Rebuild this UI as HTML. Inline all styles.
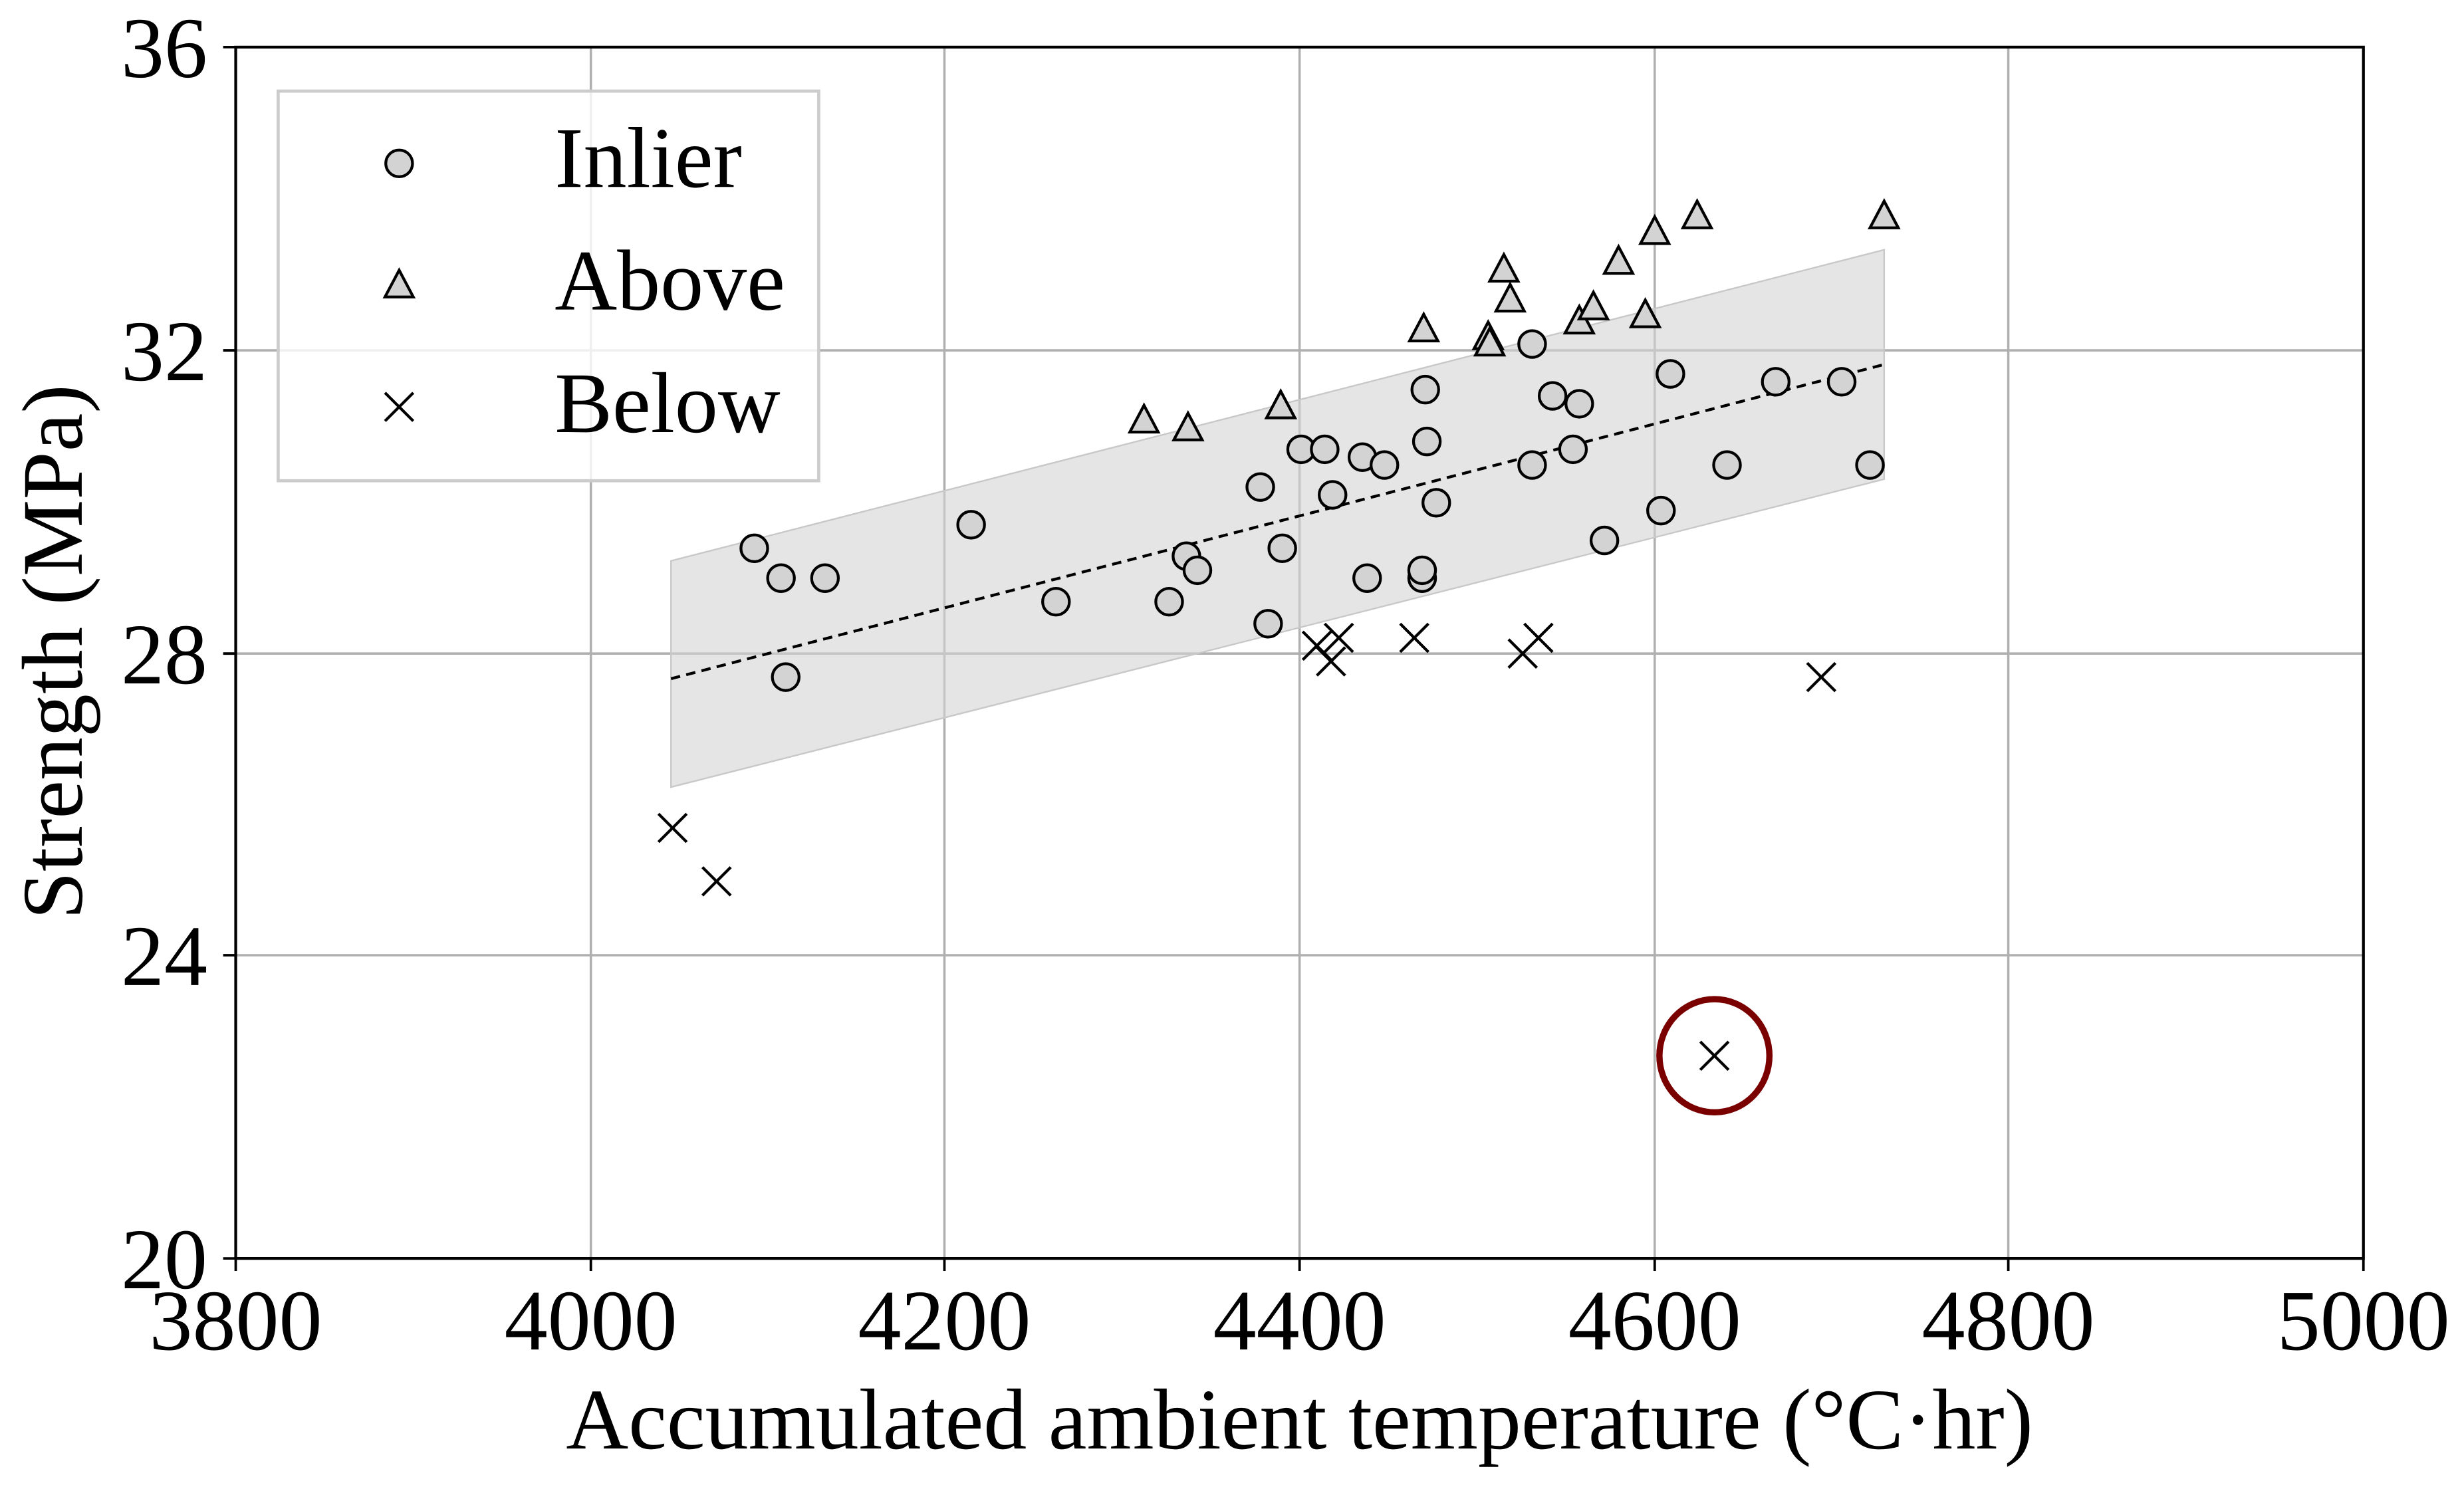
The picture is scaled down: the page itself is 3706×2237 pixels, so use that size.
<!DOCTYPE html>
<html><head><meta charset="utf-8"><style>html,body{margin:0;padding:0;background:#fff}svg{display:block}</style></head>
<body>
<svg width="3706" height="2237" viewBox="0 0 1568 946.5" preserveAspectRatio="none" xmlns="http://www.w3.org/2000/svg" font-family="'Liberation Serif', serif">
<rect width="1568" height="946.5" fill="#fff"/>
<g stroke="#b0b0b0" stroke-width="1.5">
<line x1="376" y1="30" x2="376" y2="801"/><line x1="601" y1="30" x2="601" y2="801"/><line x1="827" y1="30" x2="827" y2="801"/><line x1="1053" y1="30" x2="1053" y2="801"/><line x1="1278" y1="30" x2="1278" y2="801"/>
<line x1="150" y1="223" x2="1504" y2="223"/><line x1="150" y1="416" x2="1504" y2="416"/><line x1="150" y1="608" x2="1504" y2="608"/>
</g>
<polygon points="427,357 1199,159 1199,305 427,501" fill="#d3d3d3" fill-opacity="0.6" stroke="#c8c8c8" stroke-width="1"/>
<line x1="427" y1="432" x2="1199" y2="232" stroke="#000" stroke-width="1.8" stroke-dasharray="6,4"/>
<g fill="#d3d3d3" stroke="#000" stroke-width="1.8">
<circle cx="480" cy="349" r="8.5"/><circle cx="497" cy="368" r="8.5"/><circle cx="525" cy="368" r="8.5"/><circle cx="500" cy="431" r="8.5"/><circle cx="618" cy="334" r="8.5"/><circle cx="672" cy="383" r="8.5"/><circle cx="744" cy="383" r="8.5"/><circle cx="755" cy="354" r="8.5"/><circle cx="762" cy="363" r="8.5"/><circle cx="802" cy="310" r="8.5"/><circle cx="807" cy="397" r="8.5"/><circle cx="816" cy="349" r="8.5"/><circle cx="828" cy="286" r="8.5"/><circle cx="843" cy="286" r="8.5"/><circle cx="848" cy="315" r="8.5"/><circle cx="867" cy="291" r="8.5"/><circle cx="870" cy="368" r="8.5"/><circle cx="881" cy="296" r="8.5"/><circle cx="905" cy="368" r="8.5"/><circle cx="905" cy="363" r="8.5"/><circle cx="907" cy="248" r="8.5"/><circle cx="908" cy="281" r="8.5"/><circle cx="914" cy="320" r="8.5"/><circle cx="975" cy="219" r="8.5"/><circle cx="975" cy="296" r="8.5"/><circle cx="988" cy="252" r="8.5"/><circle cx="1001" cy="286" r="8.5"/><circle cx="1005" cy="257" r="8.5"/><circle cx="1021" cy="344" r="8.5"/><circle cx="1057" cy="325" r="8.5"/><circle cx="1063" cy="238" r="8.5"/><circle cx="1099" cy="296" r="8.5"/><circle cx="1130" cy="243" r="8.5"/><circle cx="1172" cy="243" r="8.5"/><circle cx="1190" cy="296" r="8.5"/>
</g>
<g fill="#d3d3d3" stroke="#000" stroke-width="1.8" stroke-linejoin="miter">
<polygon points="728,258 737,275 719,275"/><polygon points="756,263 765,280 747,280"/><polygon points="815,249 824,266 806,266"/><polygon points="906,200 915,217 897,217"/><polygon points="947,205 956,222 938,222"/><polygon points="948,209 957,226 939,226"/><polygon points="957,162 966,179 948,179"/><polygon points="961,181 970,198 952,198"/><polygon points="1005,195 1014,212 996,212"/><polygon points="1014,186 1023,203 1005,203"/><polygon points="1030,157 1039,174 1021,174"/><polygon points="1047,191 1056,208 1038,208"/><polygon points="1053,138 1062,155 1044,155"/><polygon points="1080,128 1089,145 1071,145"/><polygon points="1199,128 1208,145 1190,145"/>
</g>
<g stroke="#000" stroke-width="1.8" fill="none">
<path d="M419,518l18,18M437,518l-18,18M447,552l18,18M465,552l-18,18M829,402l18,18M847,402l-18,18M838,412l18,18M856,412l-18,18M843,397l18,18M861,397l-18,18M891,397l18,18M909,397l-18,18M960,407l18,18M978,407l-18,18M970,397l18,18M988,397l-18,18M1150,422l18,18M1168,422l-18,18M1082,663l18,18M1100,663l-18,18"/>
</g>
<ellipse cx="1091" cy="672" rx="35" ry="36" fill="none" stroke="#7a0000" stroke-width="4"/>
<rect x="150" y="30" width="1354" height="771" fill="none" stroke="#000" stroke-width="1.8"/>
<g stroke="#000" stroke-width="1.6">
<line x1="142" y1="30" x2="150" y2="30"/><line x1="142" y1="223" x2="150" y2="223"/><line x1="142" y1="416" x2="150" y2="416"/><line x1="142" y1="608" x2="150" y2="608"/><line x1="142" y1="801" x2="150" y2="801"/>
<line x1="150" y1="801" x2="150" y2="809"/><line x1="376" y1="801" x2="376" y2="809"/><line x1="601" y1="801" x2="601" y2="809"/><line x1="827" y1="801" x2="827" y2="809"/><line x1="1053" y1="801" x2="1053" y2="809"/><line x1="1278" y1="801" x2="1278" y2="809"/><line x1="1504" y1="801" x2="1504" y2="809"/>
</g>
<g font-size="55" fill="#000" text-anchor="end">
<text x="132" y="49">36</text><text x="132" y="242">32</text><text x="132" y="435">28</text><text x="132" y="627">24</text><text x="132" y="820">20</text>
</g>
<g font-size="55" fill="#000" text-anchor="middle">
<text x="150" y="859">3800</text><text x="376" y="859">4000</text><text x="601" y="859">4200</text><text x="827" y="859">4400</text><text x="1053" y="859">4600</text><text x="1278" y="859">4800</text><text x="1504" y="859">5000</text>
<text x="827" y="922">Accumulated ambient temperature (°C·hr)</text>
<text transform="translate(52,415) rotate(-90)">Strength (MPa)</text>
</g>
<rect x="177" y="58" width="344" height="248" fill="#fff" fill-opacity="0.8" stroke="#cccccc" stroke-width="2"/>
<circle cx="254" cy="104" r="8.5" fill="#d3d3d3" stroke="#000" stroke-width="1.8"/>
<polygon points="254,172 263,189 245,189" fill="#d3d3d3" stroke="#000" stroke-width="1.8"/>
<path d="M245,250l18,18M263,250l-18,18" stroke="#000" stroke-width="1.8"/>
<g font-size="55" fill="#000">
<text x="353" y="119">Inlier</text><text x="353" y="197">Above</text><text x="353" y="275">Below</text>
</g>
</svg>
</body></html>
